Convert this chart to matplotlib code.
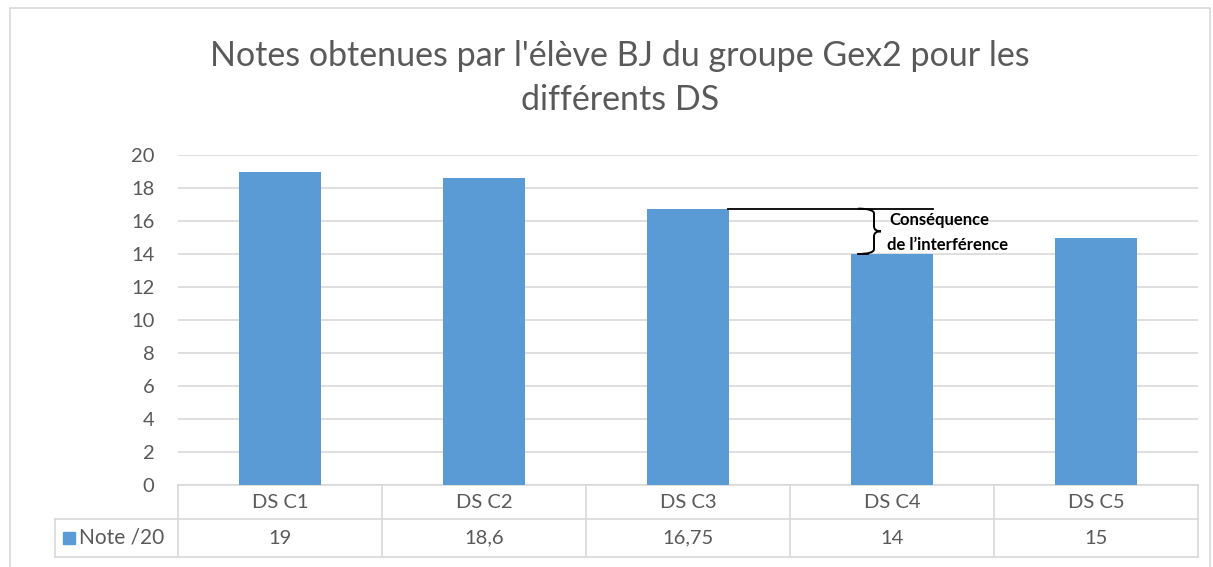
import matplotlib.pyplot as plt
from matplotlib.patches import Rectangle, PathPatch
from matplotlib.path import Path
import matplotlib.transforms as mtransforms

# ---------------- DATA ----------------
categories = ["DS C1", "DS C2", "DS C3", "DS C4", "DS C5"]
notes = [19, 18.6, 16.75, 14, 15]
note_labels = ["19", "18,6", "16,75", "14", "15"]
series_name = "Note /20"
title = "Notes obtenues par l'élève BJ du groupe Gex2 pour les\ndifférents DS"

BLUE = "#5B9BD5"
TXT = "#595959"
GRID = "#D9D9D9"

plt.rcParams["font.family"] = ["Lato", "DejaVu Sans"]

W, H = 1213, 567
fig = plt.figure(figsize=(W / 100, H / 100), dpi=100)

# outer chart frame
fig.patches.append(Rectangle((10 / W, -0.05), (1210 - 10) / W, 1 - 8 / H + 0.05,
                             transform=fig.transFigure, fill=False,
                             edgecolor=GRID, linewidth=1.2))

# axes placed in pixel units
x0, x1, ytop, ybot = 178, 1198, 155, 485
ax = fig.add_axes([x0 / W, 1 - ybot / H, (x1 - x0) / W, (ybot - ytop) / H])

xs = range(len(categories))
ax.bar(xs, notes, width=0.4, color=BLUE, zorder=3)
ax.set_xlim(-0.5, len(categories) - 0.5)
ax.set_ylim(0, 20)
ax.set_yticks(range(0, 21, 2))
ax.yaxis.grid(True, color=GRID, linewidth=1.2, zorder=0)
ax.tick_params(axis="y", length=0, pad=17, labelsize=14.5, labelcolor=TXT)
ax.set_xticks([])
for s in ax.spines.values():
    s.set_visible(False)

fig.text(0.511, 1 - 78 / H, title, ha="center", va="center", fontsize=24.5,
         color=TXT, linespacing=1.45)

# ---------------- data table ----------------
tr = mtransforms.blended_transform_factory(ax.transData, ax.transAxes)
ah = ybot - ytop
r0 = 0.0
r1 = -(519 - ybot) / ah
r2 = -(557 - ybot) / ah
lx = -(x0 - 55) / (x1 - x0)
lk = dict(color=GRID, linewidth=1.2, clip_on=False)

ax.plot([-0.5, len(categories) - 0.5], [r0, r0], transform=tr, **lk)
ax.plot([lx, 1], [r1, r1], transform=ax.transAxes, **lk)
ax.plot([lx, 1], [r2, r2], transform=ax.transAxes, **lk)
ax.plot([lx, lx], [r1, r2], transform=ax.transAxes, **lk)
for i in range(len(categories) + 1):
    ax.plot([i - 0.5, i - 0.5], [r0, r2], transform=tr, **lk)

for i, (c, v) in enumerate(zip(categories, note_labels)):
    ax.text(i, (r0 + r1) / 2, c, transform=tr, ha="center", va="center",
            fontsize=14.5, color=TXT)
    ax.text(i, (r1 + r2) / 2, v, transform=tr, ha="center", va="center",
            fontsize=14.5, color=TXT)

# legend key in the table
sq = 12 / (x1 - x0)
ax.add_patch(Rectangle((-(x0 - 63) / (x1 - x0), (r1 + r2) / 2 - 6 / ah), sq, 12 / ah,
                       transform=ax.transAxes, color=BLUE, clip_on=False))
ax.text(-(x0 - 79) / (x1 - x0), (r1 + r2) / 2, series_name, transform=ax.transAxes,
        ha="left", va="center", fontsize=15, color=TXT)

# ---------------- annotation ----------------
def px(p):
    return (p - x0) / 204 - 0.5

top, bot = notes[2], notes[3]
mid = (top + bot) / 2
ax.plot([px(728), px(933)], [top, top], color="black", linewidth=1.3, zorder=4)
ax.plot([px(858), px(868)], [bot, bot], color="black", linewidth=1.3, zorder=4)

verts = [
    (px(858), top), (px(874), top), (px(874), top - 0.3),
    (px(874), mid + 0.3), (px(874), mid), (px(881), mid),
    (px(874), mid), (px(874), mid - 0.3),
    (px(874), bot + 0.3), (px(874), bot), (px(858), bot),
]
codes = [Path.MOVETO, Path.CURVE3, Path.CURVE3,
         Path.LINETO, Path.CURVE3, Path.CURVE3,
         Path.CURVE3, Path.CURVE3,
         Path.LINETO, Path.CURVE3, Path.CURVE3]
ax.add_patch(PathPatch(Path(verts, codes), fill=False, edgecolor="black",
                       linewidth=1.4, zorder=4))
ax.text(px(889), top - 0.7, "Conséquence", fontsize=12, fontweight="bold",
        ha="left", va="center", zorder=5)
ax.text(px(887), bot + 0.55, "de l’interférence", fontsize=12, fontweight="bold",
        ha="left", va="center", zorder=5)

fig.savefig("out.png", dpi=100)
